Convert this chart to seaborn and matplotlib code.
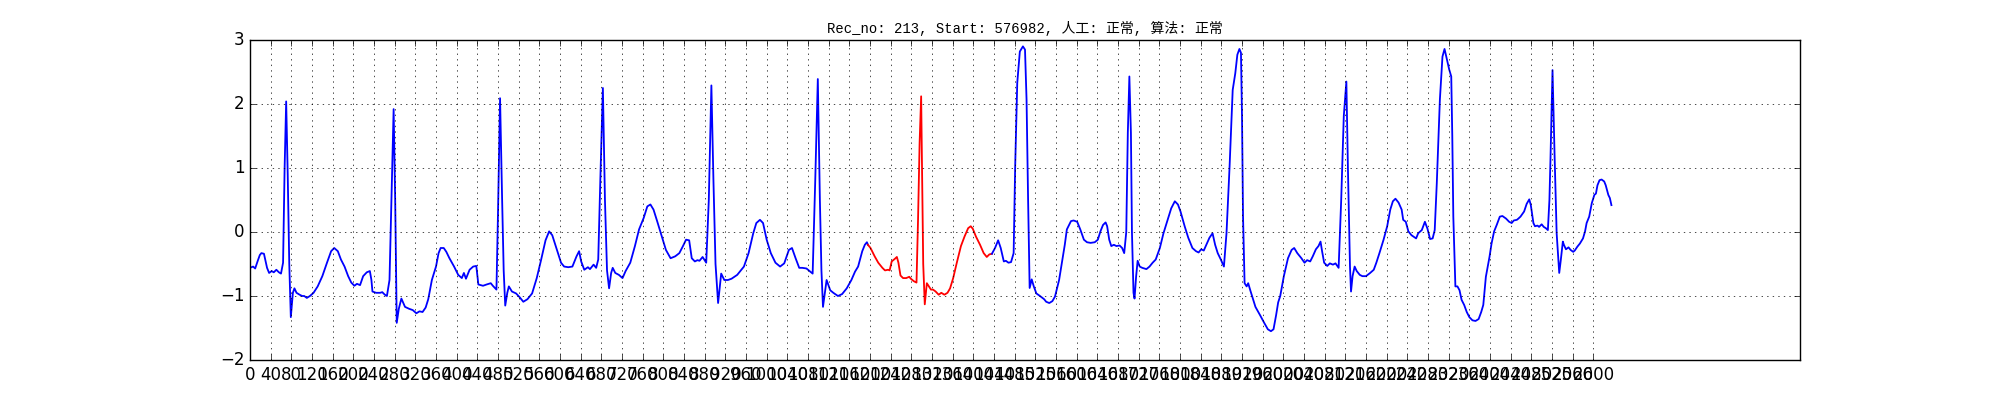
import matplotlib
matplotlib.use('Agg')
import matplotlib.pyplot as plt
import seaborn as sns
import pandas as pd

rec_no = 213
start = 576982
label_manual = '正常'
label_algo = '正常'

# ECG trace, vertices (sample index, amplitude)
sample = [
    0, 6, 10, 15, 19, 22, 27, 30, 33, 37, 42, 46, 51, 56, 60, 64, 67, 70, 73, 76,
    79, 83, 86, 90, 96, 101, 105, 110, 116, 123, 131, 140, 149, 157, 163, 170, 176, 183, 190, 196,
    202, 207, 213, 219, 226, 232, 235, 237, 244, 252, 256, 261, 265, 270, 274, 278, 281, 284, 288, 293,
    300, 308, 315, 322, 328, 334, 340, 345, 352, 360, 365, 369, 375, 380, 386, 395, 403, 410, 414, 418,
    425, 432, 438, 442, 451, 458, 466, 470, 477, 480, 484, 488, 491, 494, 498, 501, 507, 515, 522, 529,
    537, 546, 555, 563, 572, 579, 585, 594, 602, 608, 616, 624, 632, 637, 641, 647, 654, 658, 665, 670,
    674, 678, 683, 687, 691, 695, 699, 702, 707, 714, 721, 727, 736, 745, 753, 762, 769, 775, 781, 788,
    797, 805, 814, 823, 831, 838, 844, 850, 855, 861, 866, 870, 876, 883, 888, 893, 897, 901, 906, 912,
    918, 925, 932, 943, 950, 956, 965, 974, 980, 987, 993, 1000, 1008, 1017, 1026, 1034, 1043, 1049, 1056, 1063,
    1069, 1077, 1083, 1089, 1094, 1099, 1103, 1106, 1109, 1116, 1123, 1129, 1138, 1146, 1155, 1164, 1171, 1177, 1185, 1190,
    1194, 1196, 1201, 1209, 1216, 1224, 1229, 1235, 1238, 1242, 1248, 1252, 1255, 1259, 1264, 1270, 1276, 1279, 1285, 1290,
    1293, 1296, 1299, 1301, 1303, 1306, 1310, 1314, 1318, 1322, 1327, 1333, 1338, 1344, 1350, 1355, 1361, 1368, 1376, 1383,
    1390, 1395, 1399, 1405, 1413, 1420, 1426, 1431, 1436, 1442, 1448, 1453, 1459, 1463, 1468, 1473, 1478, 1481, 1485, 1490,
    1496, 1500, 1503, 1506, 1509, 1513, 1517, 1522, 1529, 1537, 1541, 1547, 1553, 1558, 1566, 1572, 1577, 1581, 1589, 1594,
    1601, 1607, 1614, 1620, 1627, 1635, 1641, 1646, 1651, 1656, 1659, 1663, 1667, 1672, 1677, 1683, 1688, 1692, 1696, 1699,
    1702, 1705, 1707, 1710, 1712, 1715, 1718, 1722, 1727, 1735, 1741, 1747, 1753, 1761, 1768, 1776, 1783, 1790, 1796, 1801,
    1809, 1816, 1824, 1831, 1836, 1841, 1846, 1851, 1857, 1863, 1868, 1873, 1879, 1885, 1890, 1896, 1902, 1907, 1911, 1915,
    1918, 1920, 1922, 1925, 1929, 1932, 1936, 1941, 1946, 1955, 1963, 1970, 1976, 1981, 1986, 1990, 1994, 2001, 2009, 2016,
    2021, 2027, 2035, 2041, 2046, 2052, 2057, 2063, 2068, 2072, 2075, 2079, 2085, 2090, 2096, 2101, 2107, 2112, 2117, 2122,
    2125, 2129, 2131, 2134, 2138, 2142, 2148, 2153, 2160, 2168, 2175, 2180, 2186, 2194, 2201, 2207, 2212, 2217, 2223, 2229,
    2232, 2237, 2242, 2248, 2257, 2261, 2268, 2274, 2279, 2284, 2289, 2293, 2297, 2300, 2303, 2308, 2312, 2316, 2321, 2325,
    2327, 2329, 2333, 2337, 2341, 2345, 2350, 2355, 2360, 2366, 2372, 2378, 2383, 2387, 2392, 2399, 2403, 2408, 2413, 2419,
    2424, 2431, 2437, 2442, 2446, 2452, 2455, 2459, 2466, 2471, 2476, 2479, 2484, 2487, 2492, 2495, 2500, 2504, 2508, 2512,
    2515, 2517, 2521, 2525, 2529, 2534, 2537, 2541, 2543, 2547, 2552, 2556, 2561, 2564, 2569, 2574, 2580, 2584, 2587, 2592,
    2597, 2602, 2605, 2608, 2612, 2616, 2621, 2624, 2629, 2632, 2635,
]
value = [
    -0.56, -0.54, -0.57, -0.45, -0.36, -0.33, -0.34, -0.45, -0.56, -0.64, -0.61, -0.63, -0.59, -0.63, -0.65, -0.48, 1.0, 2.04, 0.9, -0.5,
    -1.33, -0.95, -0.88, -0.95, -0.98, -1.0, -1.0, -1.03, -1.0, -0.95, -0.85, -0.69, -0.48, -0.3, -0.25, -0.3, -0.43, -0.54, -0.69, -0.79,
    -0.84, -0.81, -0.83, -0.69, -0.63, -0.61, -0.75, -0.93, -0.95, -0.95, -0.94, -0.98, -1.0, -0.75, 0.6, 1.92, 0.5, -1.42, -1.2, -1.04,
    -1.17, -1.2, -1.22, -1.27, -1.24, -1.25, -1.18, -1.05, -0.75, -0.54, -0.33, -0.25, -0.25, -0.31, -0.41, -0.54, -0.67, -0.72, -0.64, -0.73,
    -0.59, -0.54, -0.53, -0.82, -0.84, -0.82, -0.8, -0.84, -0.9, 0.3, 2.09, 0.5, -0.6, -1.15, -0.95, -0.85, -0.93, -0.96, -1.02, -1.09,
    -1.05, -0.96, -0.72, -0.45, -0.13, 0.01, -0.05, -0.28, -0.48, -0.54, -0.55, -0.54, -0.38, -0.3, -0.46, -0.59, -0.55, -0.58, -0.51, -0.56,
    -0.43, 0.8, 2.25, 0.5, -0.6, -0.88, -0.64, -0.56, -0.64, -0.67, -0.72, -0.61, -0.48, -0.22, 0.04, 0.22, 0.4, 0.43, 0.35, 0.17,
    -0.07, -0.28, -0.41, -0.38, -0.33, -0.22, -0.12, -0.13, -0.41, -0.46, -0.44, -0.45, -0.39, -0.48, 0.5, 2.29, 0.8, -0.5, -1.11, -0.65,
    -0.75, -0.75, -0.73, -0.67, -0.6, -0.54, -0.33, -0.02, 0.14, 0.19, 0.14, -0.12, -0.33, -0.48, -0.54, -0.49, -0.28, -0.25, -0.41, -0.56,
    -0.56, -0.57, -0.61, -0.65, 0.8, 2.39, 0.5, -0.6, -1.17, -0.75, -0.91, -0.95, -1.0, -0.97, -0.88, -0.75, -0.62, -0.54, -0.3, -0.2,
    -0.16, -0.2, -0.25, -0.38, -0.48, -0.56, -0.6, -0.59, -0.6, -0.46, -0.42, -0.39, -0.48, -0.68, -0.72, -0.72, -0.7, -0.73, -0.77, -0.79,
    0.2, 1.39, 2.12, 0.8, -0.5, -1.13, -0.8, -0.85, -0.9, -0.9, -0.93, -0.98, -0.95, -0.98, -0.95, -0.88, -0.72, -0.48, -0.22, -0.07,
    0.06, 0.09, 0.05, -0.07, -0.2, -0.33, -0.39, -0.35, -0.34, -0.25, -0.13, -0.25, -0.46, -0.45, -0.48, -0.47, -0.33, 1.03, 2.33, 2.82,
    2.9, 2.85, 2.07, 0.5, -0.875, -0.74, -0.85, -0.96, -1.0, -1.05, -1.09, -1.11, -1.08, -1.01, -0.75, -0.45, -0.2, 0.04, 0.17, 0.18,
    0.16, 0.04, -0.12, -0.16, -0.17, -0.16, -0.12, 0.01, 0.11, 0.15, 0.09, -0.12, -0.22, -0.2, -0.22, -0.21, -0.25, -0.33, 0.0, 1.55,
    2.43, 1.55, 0.0, -0.95, -1.04, -0.7, -0.45, -0.54, -0.56, -0.58, -0.54, -0.48, -0.43, -0.25, -0.02, 0.19, 0.37, 0.48, 0.43, 0.32,
    0.09, -0.09, -0.25, -0.3, -0.32, -0.27, -0.29, -0.2, -0.09, -0.02, -0.2, -0.33, -0.43, -0.54, -0.02, 1.03, 2.22, 2.48, 2.77, 2.86,
    2.8, 1.81, 0.24, -0.8, -0.85, -0.8, -0.91, -1.04, -1.17, -1.3, -1.42, -1.52, -1.55, -1.52, -1.3, -1.1, -1.0, -0.69, -0.41, -0.28,
    -0.25, -0.33, -0.41, -0.48, -0.44, -0.46, -0.38, -0.27, -0.22, -0.15, -0.3, -0.48, -0.53, -0.49, -0.51, -0.49, -0.56, 0.5, 1.81, 2.35,
    1.0, -0.54, -0.93, -0.69, -0.54, -0.61, -0.67, -0.69, -0.69, -0.64, -0.59, -0.48, -0.33, -0.12, 0.09, 0.35, 0.48, 0.52, 0.46, 0.35,
    0.19, 0.16, 0.01, -0.05, -0.1, -0.02, 0.03, 0.16, 0.05, -0.11, -0.1, 0.03, 0.76, 1.4, 2.07, 2.74, 2.86, 2.72, 2.54, 2.43,
    1.5, 0.24, -0.85, -0.85, -0.91, -1.06, -1.14, -1.25, -1.33, -1.38, -1.39, -1.36, -1.25, -1.14, -0.7, -0.39, -0.18, 0.01, 0.11, 0.24,
    0.25, 0.21, 0.16, 0.14, 0.18, 0.19, 0.21, 0.24, 0.32, 0.44, 0.51, 0.42, 0.14, 0.09, 0.1, 0.08, 0.12, 0.08, 0.06, 0.03,
    0.5, 1.12, 2.53, 1.2, -0.02, -0.64, -0.44, -0.15, -0.2, -0.27, -0.24, -0.28, -0.31, -0.29, -0.23, -0.18, -0.1, 0.01, 0.14, 0.24,
    0.45, 0.58, 0.6, 0.73, 0.81, 0.82, 0.79, 0.73, 0.58, 0.53, 0.42,
]

# segment flagged in red
red_from, red_to = 1196, 1436

xticks = list(range(0, 2640, 40))

plt.style.use('classic')
fig, ax = plt.subplots(figsize=(20, 4), dpi=100)
fig.patch.set_facecolor('white')

df = pd.DataFrame({'sample': sample, 'value': value})
before = df[df['sample'] <= red_from]
middle = df[(df['sample'] >= red_from) & (df['sample'] <= red_to)]
after = df[df['sample'] >= red_to]

for part, c in [(before, 'b'), (middle, 'r'), (after, 'b')]:
    sns.lineplot(data=part, x='sample', y='value', color=c, linewidth=1.3,
                 sort=False, estimator=None, ax=ax)

ax.set_xlabel('')
ax.set_ylabel('')
ax.set_xticks(xticks)
ax.set_xlim(0, 3000)
ax.set_ylim(-2, 3)
ax.grid(True)
ax.set_title(f'Rec_no: {rec_no}, Start: {start}, 人工: {label_manual}, 算法: {label_algo}',
             fontsize=10, family=['Liberation Mono', 'Noto Sans CJK SC'])

fig.savefig('out.png', dpi=100)
